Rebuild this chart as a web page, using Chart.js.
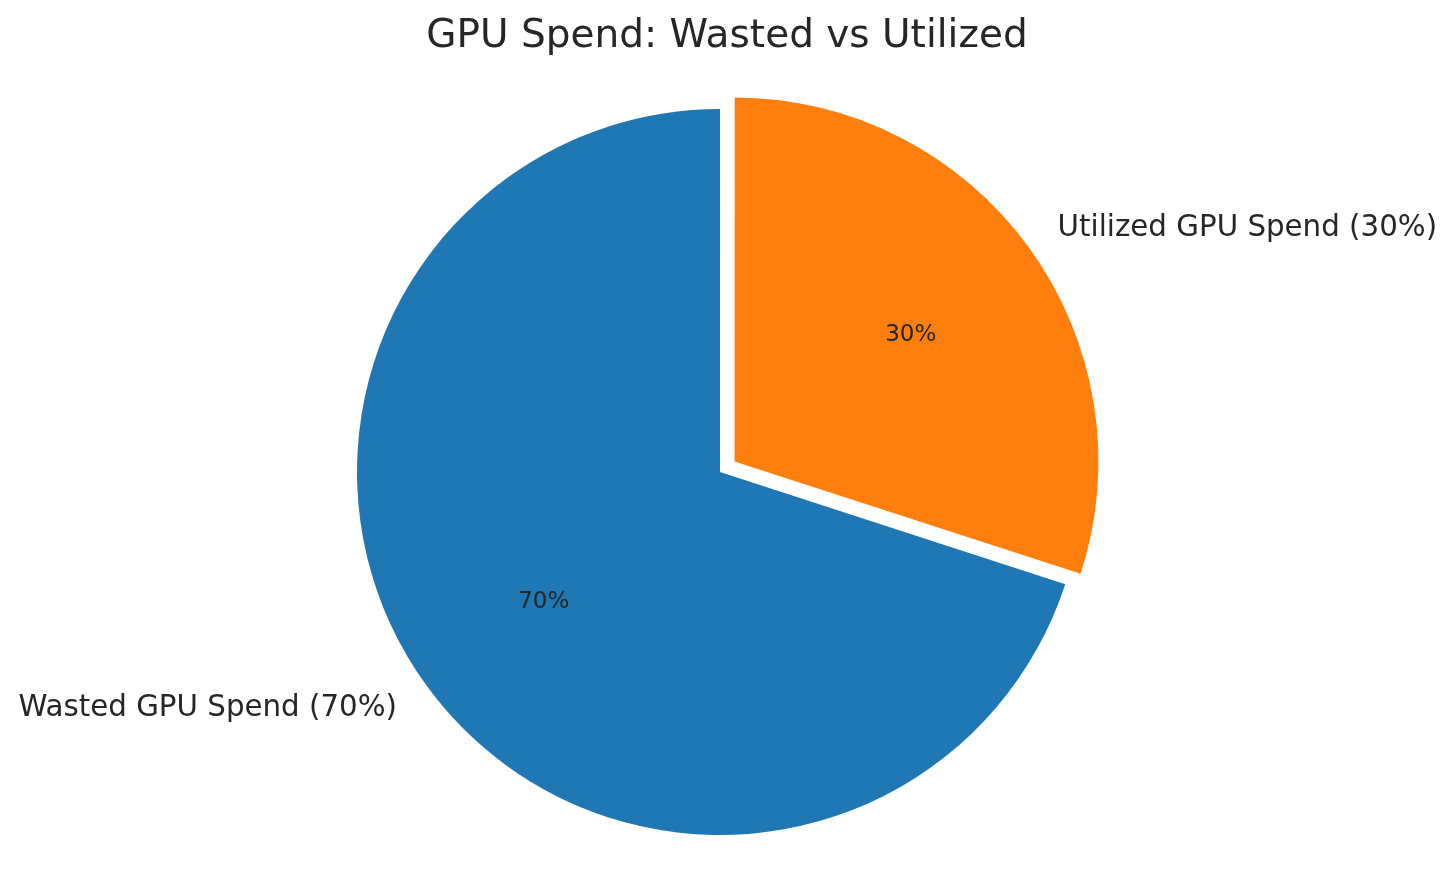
<!DOCTYPE html>
<html>
<head>
<meta charset="utf-8">
<script src="https://cdn.jsdelivr.net/npm/chart.js@4.4.1/dist/chart.umd.min.js"></script>
<style>
html,body{margin:0;padding:0;background:#fff;}
#wrap{width:1456px;height:891px;position:relative;}
</style>
</head>
<body>
<div id="wrap"><canvas id="c" width="1456" height="891"></canvas></div>
<script>
const titleText = "GPU Spend: Wasted vs Utilized";
const categories = ["Wasted GPU Spend (70%)", "Utilized GPU Spend (30%)"];
const values = [70, 30];
const pctLabels = ["70%", "30%"];
const colors = ["#1f77b4", "#ff7f0e"];
const explodeOffsets = [0, 72];

const textColor = "#262626";
const fontFamily = "'DejaVu Sans', sans-serif";

const labelPlugin = {
  id: 'pieLabels',
  afterDatasetsDraw(chart) {
    const ctx = chart.ctx;
    const meta = chart.getDatasetMeta(0);
    ctx.save();
    ctx.fillStyle = textColor;
    meta.data.forEach((arc, i) => {
      const p = arc.getProps(['x','y','startAngle','endAngle','outerRadius'], true);
      const mid = (p.startAngle + p.endAngle) / 2;
      const shift = (arc.options.offset || 0) / 4;
      const cx = p.x + Math.cos(mid) * shift;
      const cy = p.y + Math.sin(mid) * shift;
      const r = p.outerRadius;
      // outer label
      const lx = cx + Math.cos(mid) * r * 1.1;
      const ly = cy + Math.sin(mid) * r * 1.1;
      ctx.font = "29.3px " + fontFamily;
      ctx.textBaseline = 'middle';
      ctx.textAlign = Math.cos(mid) >= 0 ? 'left' : 'right';
      ctx.fillText(categories[i], lx, ly + 2);
      // percent label
      const px = cx + Math.cos(mid) * r * 0.6;
      const py = cy + Math.sin(mid) * r * 0.6;
      ctx.font = "23px " + fontFamily;
      ctx.textAlign = 'center';
      ctx.fillText(pctLabels[i], px, py + 2);
    });
    // title
    ctx.font = "39px " + fontFamily;
    ctx.textAlign = 'center';
    ctx.textBaseline = 'alphabetic';
    ctx.fillText(titleText, 727, 47);
    ctx.restore();
  }
};

new Chart(document.getElementById('c'), {
  type: 'pie',
  data: {
    labels: categories,
    datasets: [{
      data: values,
      backgroundColor: colors,
      borderWidth: 0,
      offset: explodeOffsets,
      hoverOffset: 0
    }]
  },
  options: {
    responsive: false,
    animation: false,
    devicePixelRatio: 1,
    rotation: 108,
    radius: 363,
    layout: { padding: { left: 0, right: 16, top: 53, bottom: 0 } },
    plugins: {
      legend: { display: false },
      title: { display: false },
      tooltip: { enabled: false }
    },
    events: []
  },
  plugins: [labelPlugin]
});
</script>
</body>
</html>
